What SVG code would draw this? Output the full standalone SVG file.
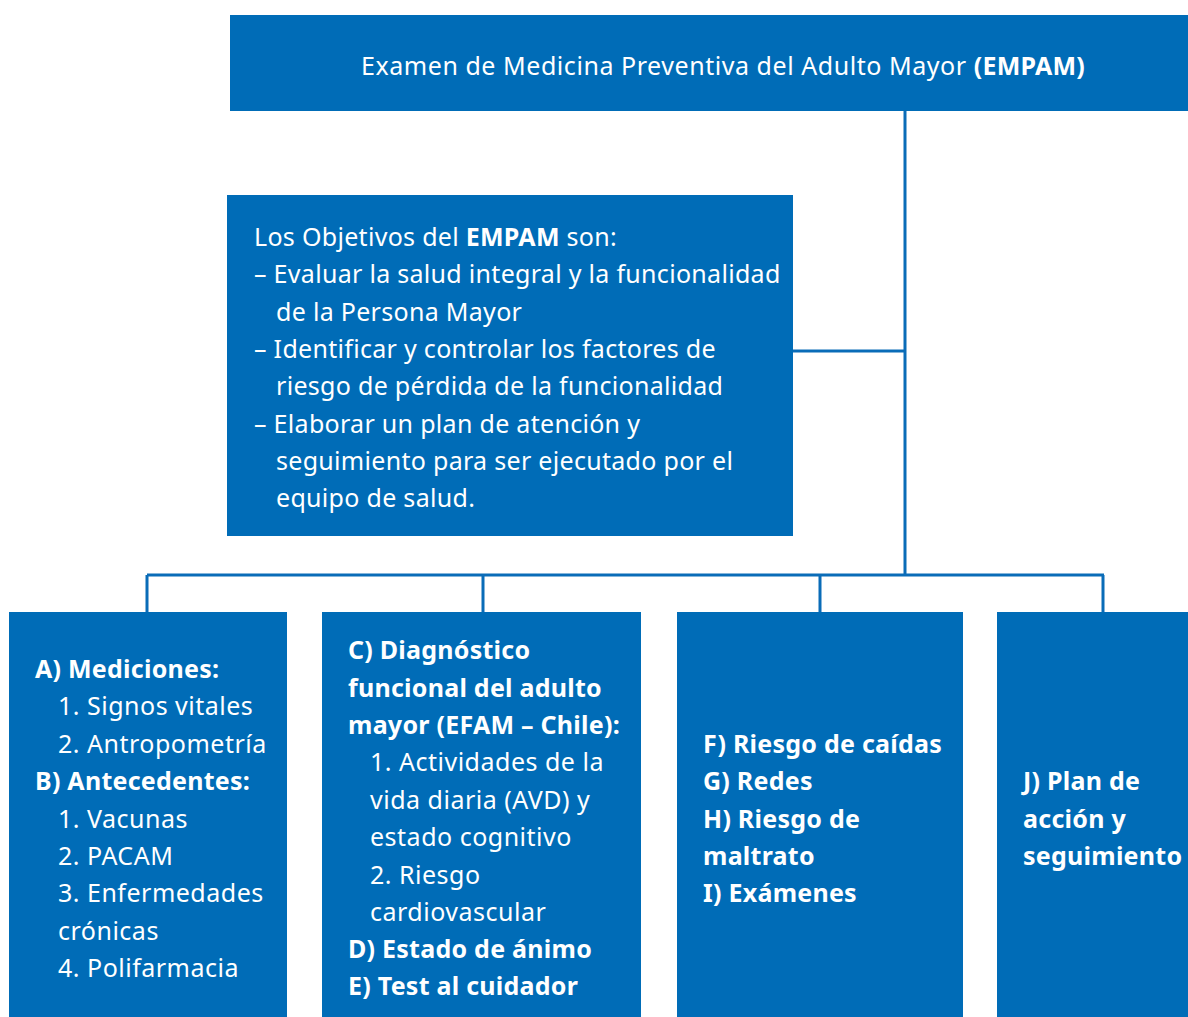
<svg xmlns="http://www.w3.org/2000/svg" width="1188" height="1017" viewBox="0 0 1188 1017">
<style>
.box{fill:#006cb7}
.t{font-family:"Noto Sans","Open Sans",sans-serif;font-size:25px;fill:#ffffff;letter-spacing:0.5px}
.o{letter-spacing:0.3px}
.b{font-weight:bold;letter-spacing:0.25px}
.ln{stroke:#0a6cb8;stroke-width:3;fill:none}
</style>
<rect width="1188" height="1017" fill="#ffffff"/>
<g id="connectors">
<path class="ln" d="M905,111 V575 M793,351 H905 M147,575 H1104 M147,575 V612 M483,575 V612 M820,575 V612 M1103,575 V612"/>
</g>
<g id="empam">
<rect class="box" x="230" y="15" width="958" height="96"/>
<text class="t" x="361" y="75" style="letter-spacing:0.55px">Examen de Medicina Preventiva del Adulto Mayor <tspan class="b">(EMPAM)</tspan></text>
</g>
<g id="objetivos">
<rect class="box" x="227" y="195" width="566" height="341"/>
<text class="t o" x="254" y="246">Los Objetivos del <tspan class="b">EMPAM</tspan> son:</text>
<text class="t o" x="254" y="283">– Evaluar la salud integral y la funcionalidad</text>
<text class="t o" x="276" y="321">de la Persona Mayor</text>
<text class="t o" x="254" y="358">– Identificar y controlar los factores de</text>
<text class="t o" x="276" y="395">riesgo de pérdida de la funcionalidad</text>
<text class="t o" x="254" y="433">– Elaborar un plan de atención y</text>
<text class="t o" x="276" y="470">seguimiento para ser ejecutado por el</text>
<text class="t o" x="276" y="507">equipo de salud.</text>
</g>
<g id="mediciones">
<rect class="box" x="9" y="612" width="278" height="405"/>
<text class="t b" x="35" y="678">A) Mediciones:</text>
<text class="t" x="58" y="715">1. Signos vitales</text>
<text class="t" x="58" y="753">2. Antropometría</text>
<text class="t b" x="35" y="790">B) Antecedentes:</text>
<text class="t" x="58" y="828">1. Vacunas</text>
<text class="t" x="58" y="865">2. PACAM</text>
<text class="t" x="58" y="902">3. Enfermedades</text>
<text class="t" x="58" y="940">crónicas</text>
<text class="t" x="58" y="977">4. Polifarmacia</text>
</g>
<g id="diagnostico">
<rect class="box" x="322" y="612" width="319" height="405"/>
<text class="t b" x="348" y="659">C) Diagnóstico</text>
<text class="t b" x="348" y="697">funcional del adulto</text>
<text class="t b" x="348" y="734">mayor (EFAM – Chile):</text>
<text class="t" x="370" y="771">1. Actividades de la</text>
<text class="t" x="370" y="809">vida diaria (AVD) y</text>
<text class="t" x="370" y="846">estado cognitivo</text>
<text class="t" x="370" y="884">2. Riesgo</text>
<text class="t" x="370" y="921">cardiovascular</text>
<text class="t b" x="348" y="958">D) Estado de ánimo</text>
<text class="t b" x="348" y="995">E) Test al cuidador</text>
</g>
<g id="riesgos">
<rect class="box" x="677" y="612" width="286" height="405"/>
<text class="t b" x="703" y="753">F) Riesgo de caídas</text>
<text class="t b" x="703" y="790">G) Redes</text>
<text class="t b" x="703" y="828">H) Riesgo de</text>
<text class="t b" x="703" y="865">maltrato</text>
<text class="t b" x="703" y="902">I) Exámenes</text>
</g>
<g id="plan">
<rect class="box" x="997" y="612" width="191" height="405"/>
<text class="t b" x="1023" y="790">J) Plan de</text>
<text class="t b" x="1023" y="828">acción y</text>
<text class="t b" x="1023" y="865">seguimiento</text>
</g>
</svg>
